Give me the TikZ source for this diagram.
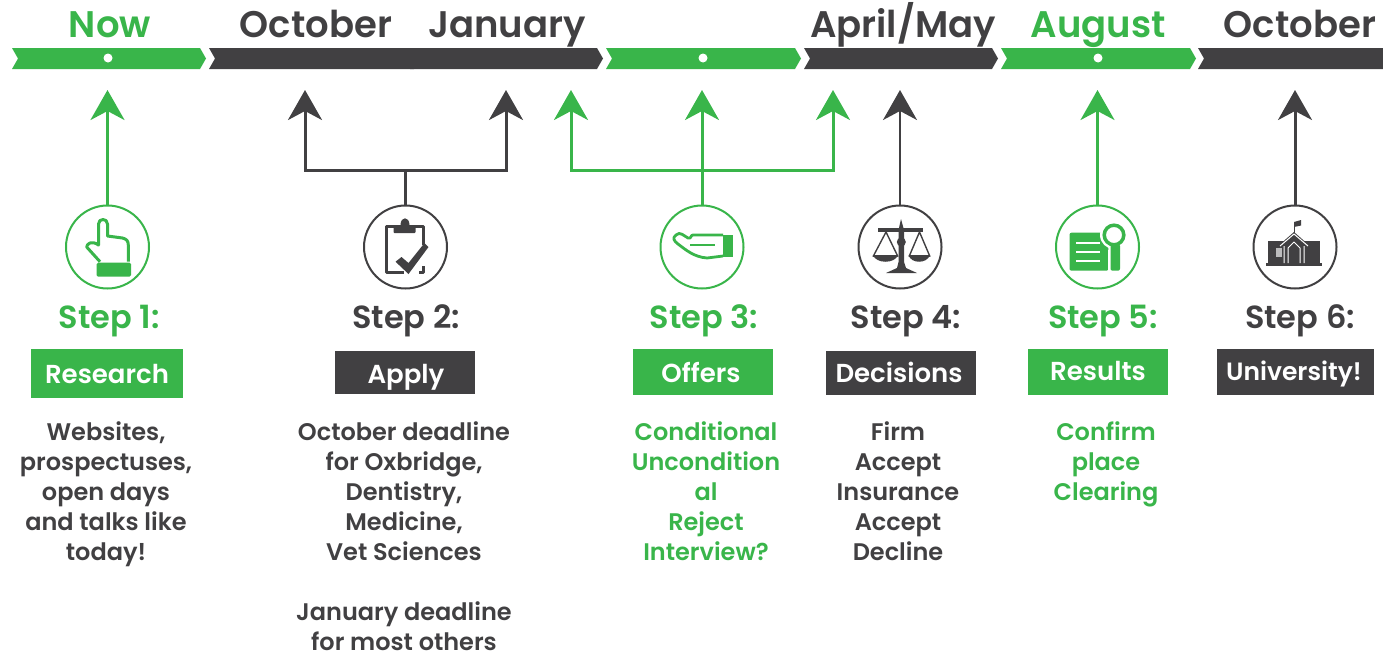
\documentclass[tikz,border=0pt]{standalone}
\usepackage{fontspec}
\setmainfont{Poppins}[BoldFont={Poppins SemiBold}]
\usetikzlibrary{arrows.meta}
\definecolor{gr}{HTML}{39B54A}
\definecolor{dk}{HTML}{414042}
\newcommand{\ribbonseg}[3]{\fill[#3] (#1,48) -- (#2-6,48) -- (#2,58.5) -- (#2-6,69) -- (#1,69) -- (#1+6,58.5) -- cycle;}
\tikzset{
  headtxt/.style={font=\fontsize{37}{37}\selectfont\bfseries,inner sep=0pt,anchor=base},
  steptxt/.style={font=\fontsize{32}{32}\selectfont\bfseries,inner sep=0pt,anchor=base},
  boxnode/.style={font=\fontsize{26}{26}\selectfont\bfseries,text=white,inner sep=0pt,anchor=base},
  bodytxt/.style={font=\fontsize{24}{30}\selectfont\bfseries,align=center,inner sep=0pt,anchor=north},
  ring/.style={circle,draw=#1,line width=2pt,minimum size=83pt,inner sep=0pt,fill=white},
  conn/.style={draw=#1,line width=3pt,{Stealth[length=30pt,width=34pt,inset=9pt]}-},
  bracket/.style={draw=#1,line width=3pt,line join=miter,{Stealth[length=30pt,width=34pt,inset=9pt]}-{Stealth[length=30pt,width=34pt,inset=9pt]}},
  plain/.style={draw=#1,line width=3pt},
  dotn/.style={circle,fill=white,inner sep=0pt,minimum size=9pt}
}
\begin{document}
\begin{tikzpicture}[x=1pt,y=-1pt]
\useasboundingbox (0,0) rectangle (1383,654);
% ribbon
\ribbonseg{12}{206}{gr}
\ribbonseg{209}{420}{dk}
\ribbonseg{410}{603}{dk}
\ribbonseg{606}{801}{gr}
\ribbonseg{804}{998}{dk}
\ribbonseg{1001}{1196}{gr}
\ribbonseg{1198}{1392}{dk}
\node[dotn] (d1) at (108,58) {};
\node[dotn] (d3) at (703,58) {};
\node[dotn] (d5) at (1098,58) {};
% headers
\node[headtxt,text=gr] (h1) at (110,37) {Now};
\node[headtxt,text=dk] (h2) at (316,37) {October};
\node[headtxt,text=dk] (h3) at (507,37) {January};
\node[headtxt,text=dk] (h4) at (903,37) {April/May};
\node[headtxt,text=gr] (h5) at (1098,37) {August};
\node[headtxt,text=dk] (h6) at (1300,37) {October};
% rings
\node[ring=gr] (s1) at (107.5,247) {};
\node[ring=dk] (s2) at (405.5,247) {};
\node[ring=gr] (s3) at (702,247) {};
\node[ring=dk] (s4) at (900,247) {};
\node[ring=gr] (s5) at (1097.5,247) {};
\node[ring=dk] (s6) at (1295,247) {};
% connector ends
\coordinate (t1) at (107.5,90);
\coordinate (t2a) at (305,90);
\coordinate (t2b) at (506,90);
\coordinate (b2a) at (305,170);
\coordinate (b2b) at (506,170);
\coordinate (j2) at (405.5,170);
\coordinate (t3a) at (571,90);
\coordinate (t3m) at (702,90);
\coordinate (t3b) at (833,90);
\coordinate (b3a) at (571,170);
\coordinate (b3b) at (833,170);
\coordinate (t4) at (900,90);
\coordinate (t5) at (1097.5,90);
\coordinate (t6) at (1295,90);
\draw[conn=gr] (t1) -- (s1.north);
\draw[bracket=dk] (t2a) -- (b2a) -- (b2b) -- (t2b);
\draw[plain=dk] (j2) -- (s2.north);
\draw[bracket=gr] (t3a) -- (b3a) -- (b3b) -- (t3b);
\draw[conn=gr] (t3m) -- (s3.north);
\draw[conn=dk,line width=2pt] (t4) -- (s4.north);
\draw[conn=gr] (t5) -- (s5.north);
\draw[conn=dk] (t6) -- (s6.north);
% step labels
\node[steptxt,text=gr] (l1) at (109,328) {Step 1:};
\node[steptxt,text=dk] (l2) at (406,328) {Step 2:};
\node[steptxt,text=gr] (l3) at (704,328) {Step 3:};
\node[steptxt,text=dk] (l4) at (906,328) {Step 4:};
\node[steptxt,text=gr] (l5) at (1103,328) {Step 5:};
\node[steptxt,text=dk] (l6) at (1300,328) {Step 6:};
% boxes
\fill[gr] (31,349) rectangle (183,398);
\fill[dk] (335,351) rectangle (475,394);
\fill[gr] (633,349) rectangle (773,395);
\fill[dk] (826,351) rectangle (976,395);
\fill[gr] (1028,349) rectangle (1168,395);
\fill[dk] (1217,349) rectangle (1374,395);
\node[boxnode] (k1) at (107,383) {Research};
\node[boxnode] (k2) at (406,383) {Apply};
\node[boxnode] (k3) at (701,382) {Offers};
\node[boxnode] (k4) at (899,382) {Decisions};
\node[boxnode] (k5) at (1098,380) {Results};
\node[boxnode,font=\fontsize{25}{25}\selectfont\bfseries] (k6) at (1294,380) {University!};
% body
\node[bodytxt,text=dk] (x1) at (106,421) {Websites,\\prospectuses,\\open days\\and talks like\\today!};
\node[bodytxt,text=dk] (x2) at (404,421) {October deadline\\for Oxbridge,\\Dentistry,\\Medicine,\\Vet Sciences\\[30pt]January deadline\\for most others};
\node[bodytxt,text=gr] (x3) at (706,421) {Conditional\\Uncondition\\al\\Reject\\Interview?};
\node[bodytxt,text=dk] (x4) at (898,421) {Firm\\Accept\\Insurance\\Accept\\Decline};
\node[bodytxt,text=gr] (x5) at (1106,421) {Confirm\\place\\Clearing};
% icon 1: hand
\begin{scope}[shift={(107.5,247)}]
\draw[gr,line width=3pt,line join=round] (-7.5,14.7) -- (-20.8,0) .. controls (-20.8,-3) and (-16,-7) .. (-9,-2) -- (-9,-23) .. controls (-9,-29) and (0,-29) .. (0,-23) -- (0,-11) -- (15,-9) .. controls (19,-8) and (20.8,-6) .. (20.8,-2) -- (20.8,14.7);
\fill[gr,rounded corners=1.5pt] (-10.8,15.7) rectangle (23.5,29.7);
\end{scope}
% icon 2: clipboard
\begin{scope}[shift={(405.5,247)}]
\draw[dk,line width=3pt,line join=round] (-2,25.7) -- (-18.8,25.7) -- (-18.8,-21) -- (17.8,-21) -- (17.8,-2) (17.8,19) -- (17.8,25.7) -- (13,25.7);
\fill[dk,rounded corners=1pt] (-12,-14) -- (-12,-21) -- (-5,-21) .. controls (-5,-31) and (4,-31) .. (4,-21) -- (10,-21) -- (10,-14) -- cycle;
\fill[dk] (-10,14.7) -- (-4,10) -- (3,16) -- (19,-4) -- (23,0) -- (3,27) -- cycle;
\end{scope}
% icon 3: offering hand
\begin{scope}[shift={(702,247)}]
\draw[gr,line width=2.8pt,line join=round] (21,-12) -- (-9,-12) .. controls (-12,-12) and (-10,-8) .. (-14,-9) .. controls (-18,-11) and (-22,-16) .. (-26,-12) .. controls (-30,-9) and (-28,-6) .. (-24,-3) .. controls (-16,3) and (-8,10) .. (5,11) -- (21,9);
\draw[gr,line width=2.8pt] (-12,-2) -- (13,-2);
\fill[gr] (21.3,-12) rectangle (30.7,10);
\end{scope}
% icon 4: scales
\begin{scope}[shift={(900,247)}]
\fill[dk] (1,-28) -- (4,-17) -- (4,15) -- (6,21) -- (17,26) -- (-14,26) -- (-3,21) -- (-1.5,15) -- (-1.5,-17) -- cycle;
\fill[dk] (1.3,-5) circle (4.5pt);
\draw[dk,line width=3.4pt] (-21.7,-17) -- (23.3,-17);
\draw[dk,line width=1.4pt] (-27,9.7) -- (-14,-15) -- (-2,9.7) (9,9.7) -- (19.5,-15) -- (30,9.7);
\fill[dk] (-27,8) .. controls (-24,17) and (-5,17) .. (-2,8) -- cycle;
\fill[dk] (8.5,8) .. controls (11,17) and (27,17) .. (30,8) -- cycle;
\end{scope}
% icon 5: document and lens
\begin{scope}[shift={(1097.5,247)}]
\fill[gr,rounded corners=2pt] (-28,-14.3) rectangle (10.8,23.7);
\draw[white,line width=2pt] (-21.5,-3.7) -- (2.5,-3.7) (-21.5,5.3) -- (2.5,5.3) (-21.5,14.3) -- (2.5,14.3);
\fill[white] (16.5,-12) circle (14pt);
\fill[white] (10.8,3) rectangle (13,24);
\draw[gr,line width=3.5pt] (16.5,-12) circle (9.8pt);
\fill[gr,rounded corners=2pt] (13,-3) rectangle (22.5,23.7);
\end{scope}
% icon 6: school
\begin{scope}[shift={(1295,247)}]
\fill[dk] (-27.3,-6.3) -- (25,-6.3) -- (25,16.3) -- (-27.3,16.3) -- cycle;
\fill[dk] (-29,15.5) rectangle (27,18.5);
\fill[dk] (-1,-15) -- (-17,-1) -- (15,-1) -- cycle;
\draw[white,line width=1pt,line join=round] (-15,-1) -- (-1,-13) -- (13,-1) (-11,-1) -- (-11,16) (9,-1) -- (9,16) (-7,16) -- (-7,1) -- (-1,-5) -- (5,1) -- (5,16);
\fill[white,opacity=.65] (-19,1) rectangle (-13.5,10);
\draw[dk,line width=1pt] (-1,-14) -- (-1,-24);
\fill[dk] (-1,-25) -- (6,-27) -- (6,-21.5) -- (-1,-20) -- cycle;
\end{scope}
\end{tikzpicture}
\end{document}
